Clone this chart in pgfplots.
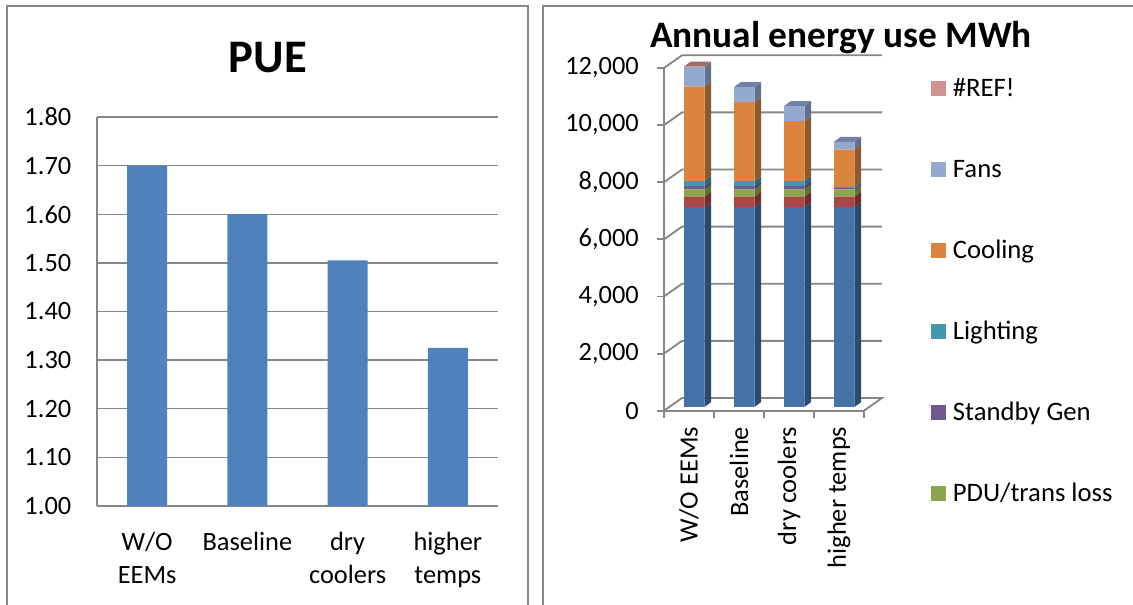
\documentclass[border=0pt]{standalone}
\usepackage{fontspec}
\setmainfont{Carlito}
\usepackage{pgfplots}
\usepackage{pgfplotstable}
\pgfplotsset{compat=1.18}

% 1 reference pixel in pt
\def\u{0.75pt}

\definecolor{gridgray}{HTML}{868686}
\definecolor{pueblue}{HTML}{4F81BD}
\definecolor{cBlue}{HTML}{4572A7}   \definecolor{sBlue}{HTML}{2B4A70}
\definecolor{cRed}{HTML}{AA4643}    \definecolor{sRed}{HTML}{732C2A}
\definecolor{cGreen}{HTML}{89A54E}  \definecolor{sGreen}{HTML}{5E7035}
\definecolor{cPurple}{HTML}{71588F} \definecolor{sPurple}{HTML}{4D3C63}
\definecolor{cTeal}{HTML}{4198AF}   \definecolor{sTeal}{HTML}{296678}
\definecolor{cOrange}{HTML}{DB843D} \definecolor{sOrange}{HTML}{8E5A2B}
\definecolor{cFans}{HTML}{93A9CF}   \definecolor{sFans}{HTML}{62708F}
\definecolor{tFans}{HTML}{6F82A5}
\definecolor{cRef}{HTML}{D19392}    \definecolor{tRef}{HTML}{A36A6A}

\pgfplotstableread{
x     base blue red green purple teal orange fans ref
0.605 130  7000 364 255   115    175  3307   686  20
1.605 130  7000 364 255   115    175  2767   525  0
2.605 130  7000 364 255   115    175  2100   525  0
3.605 130  7000 364 255   45     45   1306   270  0
}\energy

% right side of one stack segment, x of the bar's left edge, low and high y
\newcommand{\seg}[4]{%
  \pgfmathsetmacro{\xa}{#1+0.41}\pgfmathsetmacro{\xb}{#1+0.544}%
  \pgfmathsetmacro{\ya}{#2+175}\pgfmathsetmacro{\yb}{#3+175}%
  \addplot[fill=#4,draw=none,forget plot] coordinates {(\xa,#2)(\xb,\ya)(\xb,\yb)(\xa,#3)};%
}
\newcommand{\barsides}[9]{%
  \seg{#1}{130}{#2}{sBlue}\seg{#1}{#2}{#3}{sRed}\seg{#1}{#3}{#4}{sGreen}%
  \seg{#1}{#4}{#5}{sPurple}\seg{#1}{#5}{#6}{sTeal}\seg{#1}{#6}{#7}{sOrange}%
  \seg{#1}{#7}{#8}{sFans}\seg{#1}{#8}{#9}{tRef}%
}
\newcommand{\topface}[3]{%
  \pgfmathsetmacro{\xa}{#1+0.41}\pgfmathsetmacro{\xb}{#1+0.544}\pgfmathsetmacro{\xc}{#1+0.134}%
  \pgfmathsetmacro{\ya}{#2+175}%
  \addplot[fill=#3,draw=none,forget plot] coordinates {(#1,#2)(\xa,#2)(\xb,\ya)(\xc,\ya)};%
}
% one gridline: front tick, back corner, right end
\newcommand{\wall}[1]{%
  \pgfmathsetmacro{\ya}{#1+445}%
  \addplot[gridgray,line width=1.4pt,forget plot] coordinates {(0,#1)(0.36,\ya)(4.36,\ya)};%
}

\begin{document}
\begin{tikzpicture}
\path[use as bounding box] (0,0) rectangle (1133*\u,-605*\u);
\draw[gridgray,line width=1.4pt] (7*\u,-605*\u) -- (7*\u,-6*\u) -- (528*\u,-6*\u) -- (528*\u,-605*\u);
\draw[gridgray,line width=1.4pt] (543*\u,-605*\u) -- (543*\u,-6*\u) -- (1133*\u,-6*\u);

% left chart
\begin{axis}[
  at={(97*\u,-506*\u)}, anchor=south west, scale only axis,
  width=401*\u, height=389*\u,
  ybar, bar width=0.4,
  xmin=-0.5, xmax=3.5, ymin=1, ymax=1.8,
  axis x line=bottom, axis y line=left, axis line style={-,gridgray,line width=1.1pt},
  ymajorgrids, grid style={gridgray,line width=1.1pt},
  major tick length=0pt,
  ytick={1,1.1,...,1.8},
  xtick={0,1,2,3},
  xticklabels={W/O\\EEMs,Baseline,dry\\coolers,higher\\temps},
  /pgf/number format/assume math mode=true,
  /pgf/number format/.cd,fixed,fixed zerofill,precision=2,/pgfplots/.cd,
  ticklabel style={font=\fontsize{19.8}{24.75}\selectfont},
  xticklabel style={align=center,yshift=-21*\u},
  yticklabel style={xshift=-21*\u},
  title=PUE,
  every axis title shift=0pt,
  title style={at={(0.426,1.154)},anchor=center,font=\fontsize{35}{40}\selectfont\bfseries},
]
\addplot[fill=pueblue,draw=none] coordinates {(0,1.70)(1,1.60)(2,1.505)(3,1.325)};
\end{axis}

% right chart: floor, wall, sides of the bars
\begin{axis}[
  at={(664*\u,-410.7*\u)}, anchor=south west, scale only axis,
  width=200*\u, height=342.7*\u,
  clip=false,
  xmin=0, xmax=4, ymin=0, ymax=12000,
  axis x line=bottom, axis y line=left, axis line style={-,gridgray,line width=1.6pt},
  tick style={draw=gridgray,line width=1.4pt},
  ytick={0,2000,...,12000},
  xtick={0.5,1.5,2.5,3.5},
  xticklabels={W/O EEMs,Baseline,dry coolers,higher temps},
  x tick style={draw=none},
  extra x ticks={0,1,2,3,4}, extra x tick labels={},
  extra x tick style={tickwidth=7.5*\u,x tick style={draw=gridgray,line width=1.4pt}},
  tick align=outside, major tick length=7.5*\u,
  /pgf/number format/assume math mode=true,
  /pgf/number format/1000 sep={,},
  scaled y ticks=false,
  ticklabel style={font=\fontsize{19.8}{24}\selectfont},
  xticklabel style={rotate=90,anchor=east,xshift=-4*\u},
  yticklabel style={xshift=-13*\u},
  title=Annual energy use MWh,
  every axis title shift=0pt,
  title style={at={(0.885,1.088)},anchor=center,font=\fontsize{28}{34}\selectfont\bfseries},
]
\addplot[gridgray,line width=1.4pt,forget plot] coordinates {(0,0)(0.36,445)(4.36,445)(4,0)};
\wall{2000}\wall{4000}\wall{6000}\wall{8000}\wall{10000}\wall{12000}
\barsides{0.4}{7130}{7494}{7749}{7864}{8039}{11346}{12032}{12052}
\barsides{1.4}{7130}{7494}{7749}{7864}{8039}{10806}{11331}{11331}
\barsides{2.4}{7130}{7494}{7749}{7864}{8039}{10139}{10664}{10664}
\barsides{3.4}{7130}{7494}{7749}{7794}{7839}{9145}{9415}{9415}
\topface{0.4}{12052}{tRef}
\topface{1.4}{11331}{tFans}
\topface{2.4}{10664}{tFans}
\topface{3.4}{9415}{tFans}
\end{axis}

% right chart: front faces and legend
\begin{axis}[
  at={(664*\u,-410.7*\u)}, anchor=south west, scale only axis,
  width=200*\u, height=342.7*\u,
  clip=false, hide axis,
  xmin=0, xmax=4, ymin=0, ymax=12000,
  ybar stacked, bar width=0.41,
  every axis plot/.append style={draw=none},
  legend image code/.code={\fill[#1] (0,-5*\u) rectangle (15*\u,10*\u);},
  reverse legend,
  legend style={at={(931*\u-664*\u,410.7*\u-78.5*\u)},anchor=north west,draw=none,fill=none,
    font=\fontsize{20}{24}\selectfont,row sep=42.75pt,inner sep=0pt,
    nodes={text height=13pt,text depth=5pt,inner ysep=0pt},
    /tikz/column 1/.style={column sep=3pt}},
  legend cell align=left,
]
\addplot[fill=none,forget plot] table[x=x,y=base] {\energy};
\addplot[fill=cBlue,forget plot] table[x=x,y=blue] {\energy};
\addplot[fill=cRed,forget plot] table[x=x,y=red] {\energy};
\addplot[fill=cGreen] table[x=x,y=green] {\energy};
\addlegendentry{PDU/trans loss}
\addplot[fill=cPurple] table[x=x,y=purple] {\energy};
\addlegendentry{Standby Gen}
\addplot[fill=cTeal] table[x=x,y=teal] {\energy};
\addlegendentry{Lighting}
\addplot[fill=cOrange] table[x=x,y=orange] {\energy};
\addlegendentry{Cooling}
\addplot[fill=cFans] table[x=x,y=fans] {\energy};
\addlegendentry{Fans}
\addplot[fill=cRef] table[x=x,y=ref] {\energy};
\addlegendentry{\#REF!}
\end{axis}
\end{tikzpicture}
\end{document}
